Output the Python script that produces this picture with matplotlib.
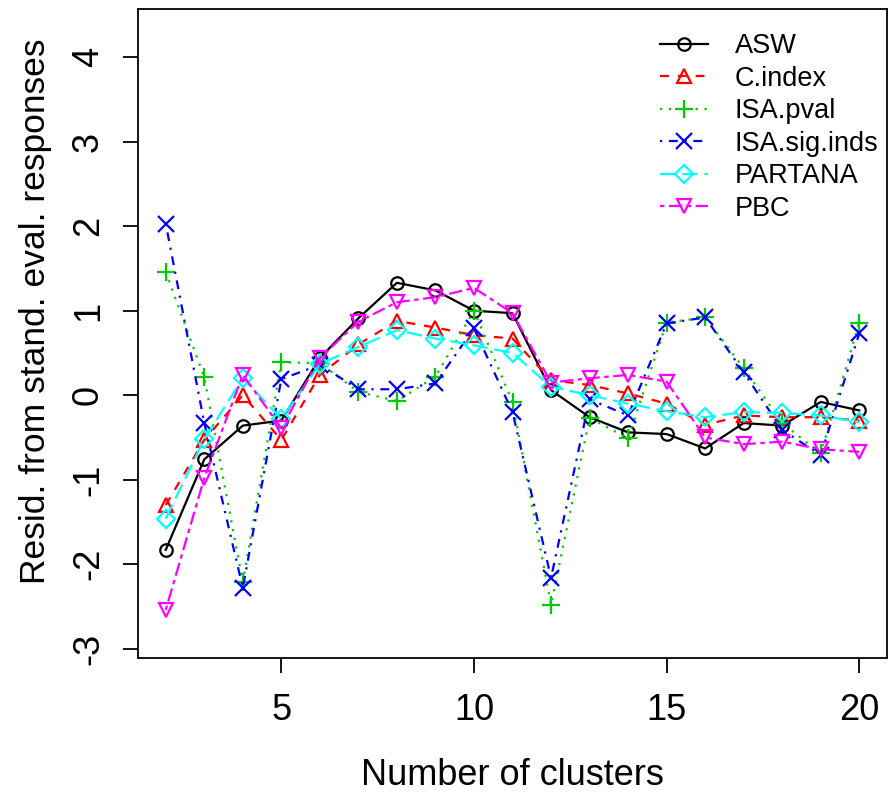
import matplotlib
matplotlib.use("Agg")
import matplotlib.pyplot as plt

plt.rcParams['font.family'] = ['Liberation Sans', 'DejaVu Sans']
plt.rcParams['axes.unicode_minus'] = False

clusters = list(range(2, 21))
asw = [-1.83, -0.76, -0.36, -0.30, 0.44, 0.91, 1.33, 1.24, 1.00, 0.97, 0.06, -0.26, -0.44, -0.46, -0.63, -0.33, -0.36, -0.08, -0.18]
cindex = [-1.30, -0.53, 0.00, -0.53, 0.24, 0.60, 0.88, 0.80, 0.71, 0.67, 0.18, 0.12, 0.02, -0.10, -0.35, -0.24, -0.26, -0.26, -0.30]
isa_pval = [1.46, 0.21, -2.21, 0.39, 0.38, 0.04, -0.07, 0.22, 1.00, -0.08, -2.48, -0.27, -0.51, 0.86, 0.92, 0.32, -0.33, -0.69, 0.86]
isa_sig = [2.03, -0.33, -2.28, 0.19, 0.36, 0.07, 0.07, 0.14, 0.79, -0.20, -2.16, -0.05, -0.24, 0.85, 0.92, 0.27, -0.41, -0.71, 0.73]
partana = [-1.46, -0.52, 0.20, -0.28, 0.37, 0.57, 0.77, 0.67, 0.59, 0.50, 0.10, 0.00, -0.10, -0.19, -0.26, -0.20, -0.21, -0.24, -0.32]
pbc = [-2.54, -0.98, 0.24, -0.39, 0.44, 0.87, 1.10, 1.16, 1.27, 0.97, 0.15, 0.20, 0.24, 0.16, -0.50, -0.58, -0.55, -0.64, -0.67]

names = ["ASW", "C.index", "ISA.pval", "ISA.sig.inds", "PARTANA", "PBC"]
series = [asw, cindex, isa_pval, isa_sig, partana, pbc]
colors = ["black", "red", "#00CD00", "blue", "cyan", "magenta"]
markers = ["o", "^", "+", "x", "D", "v"]
dashes = [None, (4, 4), (1, 3), (1, 3, 4, 3), (7, 3), (2, 2, 6, 2)]
msizes = [9, 10.5, 13, 11, 9, 10.5]

fig = plt.figure(figsize=(8.88, 7.92), dpi=100)
ax = fig.add_axes([138/888, 1-658/792, (887-138)/888, (658-9)/792])

for name, ys, c, m, d, ms in zip(names, series, colors, markers, dashes, msizes):
    kw = dict(color=c, marker=m, markersize=ms, markerfacecolor='none',
              markeredgecolor=c, markeredgewidth=1.6, linewidth=1.6, label=name)
    line, = ax.plot(clusters, ys, **kw)
    if d is not None:
        line.set_dashes(d)

ax.set_xlim(1.28, 20.72)
ax.set_ylim(-3.11, 4.57)
ax.set_xticks([5, 10, 15, 20])
ax.set_yticks([-3, -2, -1, 0, 1, 2, 3, 4])
ax.tick_params(axis='both', labelsize=26, length=11, width=1.3, direction='out')
ax.tick_params(axis='x', pad=14)
ax.tick_params(axis='y', pad=12)
for lab in ax.get_yticklabels():
    lab.set_rotation(90)
    lab.set_va('center')
for s in ax.spines.values():
    s.set_linewidth(1.3)

ax.set_xlabel("Number of clusters", fontsize=26, labelpad=22)
ax.set_ylabel("Resid. from stand. eval. responses", fontsize=25.5, labelpad=14)
ax.yaxis.label.set_y(0.535)

leg = ax.legend(loc='upper right', bbox_to_anchor=(1.012, 0.99), frameon=False,
                fontsize=19.5, handlelength=1.75, handletextpad=1.0,
                labelspacing=0.24, borderaxespad=0.25)

fig.savefig("out.png", dpi=100)
